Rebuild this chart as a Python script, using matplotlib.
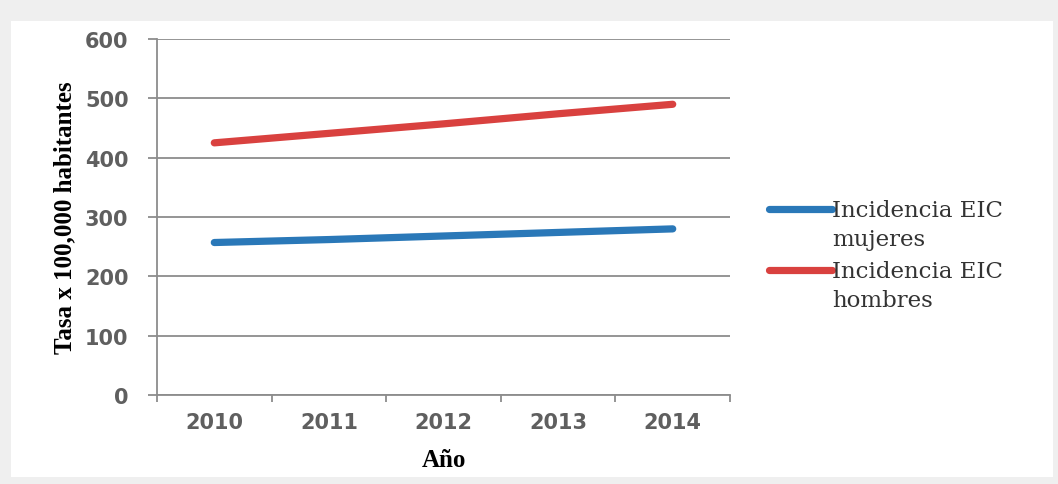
import numpy as np
import matplotlib.pyplot as plt
from matplotlib.patches import Rectangle

# datos
anios = ['2010', '2011', '2012', '2013', '2014']
mujeres = [257, 262, 268, 274, 280]
hombres = [425, 441, 457, 474, 490]
etiquetas = ['Incidencia EIC\nmujeres', 'Incidencia EIC\nhombres']

fig = plt.figure(figsize=(10.58, 4.85), dpi=100)
fig.patch.set_facecolor('#efefef')
# marco blanco del grafico
fig.add_artist(Rectangle((0.010, 0.015), 0.985, 0.94, transform=fig.transFigure,
                         facecolor='white', edgecolor='none', zorder=0))

ax = fig.add_axes([0.1484, 0.1835, 0.5416, 0.734])
ax.set_facecolor('none')
x = np.arange(len(anios))
ax.plot(x, mujeres, color='#2a78b8', lw=5.2, solid_capstyle='round', label=etiquetas[0])
ax.plot(x, hombres, color='#d9413f', lw=5.2, solid_capstyle='round', label=etiquetas[1])

ax.set_xlim(-0.5, 4.5)
ax.set_ylim(0, 600)
ax.set_yticks(range(0, 601, 100))
ax.set_xticks(x)
ax.set_xticklabels(anios)
ax.set_xticks(np.arange(-0.5, 5, 1), minor=True)
ax.grid(axis='y', color='#8c8c8c', lw=1.3)
ax.set_axisbelow(True)
for s in ['top', 'right']:
    ax.spines[s].set_visible(False)
for s in ['left', 'bottom']:
    ax.spines[s].set_color('#8c8c8c')
    ax.spines[s].set_linewidth(1.3)
ax.tick_params(axis='x', which='major', length=0, pad=12)
ax.tick_params(axis='x', which='minor', length=5, color='#8c8c8c', width=1.3)
ax.tick_params(axis='y', length=6.5, color='#8c8c8c', width=1.3, pad=14)
for lab in ax.get_xticklabels() + ax.get_yticklabels():
    lab.set_fontsize(15)
    lab.set_color('#5f5f5f')
    lab.set_fontweight('bold')

ax.set_xlabel('Año', fontsize=18, fontweight='bold', family='Liberation Serif', labelpad=12)
ax.set_ylabel('Tasa x 100,000 habitantes', fontsize=18, fontweight='bold',
              family='Liberation Serif', labelpad=6)

leg = ax.legend(loc='upper left', bbox_to_anchor=(0.727, 1 - 200 / 485),
                bbox_transform=fig.transFigure, frameon=False, borderpad=0,
                borderaxespad=0, prop={'family': 'DejaVu Serif', 'size': 16.5},
                handlelength=2.75, handletextpad=0.0, labelspacing=0.45)
for t in leg.get_texts():
    t.set_color('#333333')
    t.set_linespacing(1.4)
# linea de la leyenda a la altura de la primera linea de texto
for ln in leg.get_lines():
    ln.set_ydata(np.array(ln.get_ydata()) + 11.5)

plt.savefig('out.png', dpi=100, facecolor=fig.get_facecolor())
